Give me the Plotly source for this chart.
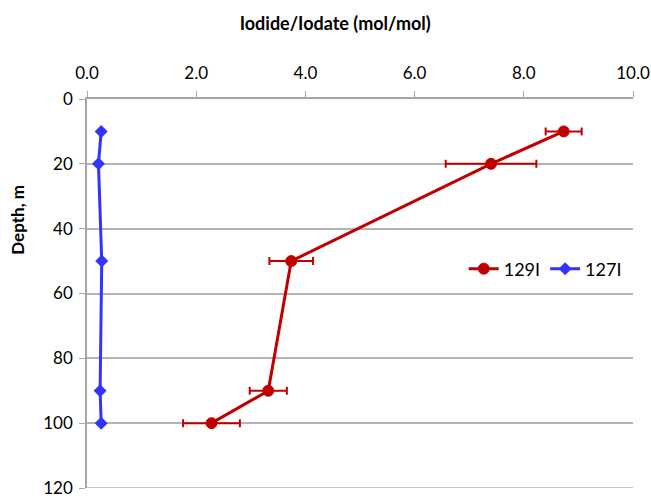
import plotly.graph_objects as go

depth = [10, 20, 50, 90, 100]
ratio_129 = [8.73, 7.40, 3.74, 3.32, 2.28]
err_129 = [0.33, 0.83, 0.40, 0.34, 0.52]
ratio_127 = [0.26, 0.21, 0.27, 0.24, 0.26]
x_ticks = [0, 2, 4, 6, 8, 10]
x_tick_labels = ["0.0", "2.0", "4.0", "6.0", "8.0", "10.0"]
y_ticks = [0, 20, 40, 60, 80, 100, 120]

red = "#C00000"
blue = "#3333FF"
grid = "#B3B3B3"
font = "Lato, 'Open Sans', sans-serif"

fig = go.Figure()
fig.add_trace(go.Scatter(
    x=ratio_129, y=depth, name="129I", mode="lines+markers",
    line=dict(color=red, width=3),
    marker=dict(symbol="circle", size=11, color=red, line=dict(color=red, width=1)),
    error_x=dict(type="data", array=err_129, visible=True, color=red, thickness=2, width=4),
))
fig.add_trace(go.Scatter(
    x=ratio_127, y=depth, name="127I", mode="lines+markers",
    line=dict(color=blue, width=3),
    marker=dict(symbol="diamond", size=10, color=blue),
))

# bottom gridline at the last depth tick (plotly skips gridlines at the plot edge)
fig.add_shape(type="line", xref="paper", yref="y", x0=0, x1=1,
              y0=y_ticks[-1], y1=y_ticks[-1], line=dict(color=grid, width=1.5), layer="below")

fig.update_layout(
    width=651, height=498,
    margin=dict(l=87, r=18, t=99, b=10),
    paper_bgcolor="white", plot_bgcolor="white",
    font=dict(family=font, size=17, color="#000000"),
    showlegend=True,
    legend=dict(orientation="h", x=0.69, y=0.563, xanchor="left", yanchor="middle",
                bgcolor="rgba(0,0,0,0)", font=dict(size=18), itemwidth=30,
                tracegroupgap=0),
    title=dict(text="<b>Iodide/Iodate (mol/mol)</b>", font=dict(size=18),
               xref="container", yref="container", x=0.515, xanchor="center",
               y=0.952, yanchor="middle"),
    xaxis=dict(
        side="top", range=[0, 10], tickvals=x_ticks, ticktext=x_tick_labels,
        showgrid=False, zeroline=False, showline=True, linecolor="#A6A6A6", linewidth=1.5,
        ticks="outside", ticklen=6, tickcolor="#A6A6A6", ticklabelstandoff=5,
        ticklabeloverflow="allow", automargin=False,
        fixedrange=True,
    ),
    yaxis=dict(
        range=[120, 0], tickvals=y_ticks,
        showgrid=True, gridcolor=grid, gridwidth=1.5, zeroline=False,
        showline=True, linecolor="#A6A6A6", linewidth=1.5,
        ticks="outside", ticklen=6, tickcolor="#A6A6A6", ticklabelstandoff=3,
        ticklabeloverflow="allow", automargin=False,
        fixedrange=True,
    ),
    annotations=[dict(
        text="<b>Depth, m</b>", textangle=-90, showarrow=False,
        xref="paper", yref="paper", x=-0.128, y=0.69,
        xanchor="center", yanchor="middle", font=dict(size=17),
    )],
)

fig.write_html("out.html")
